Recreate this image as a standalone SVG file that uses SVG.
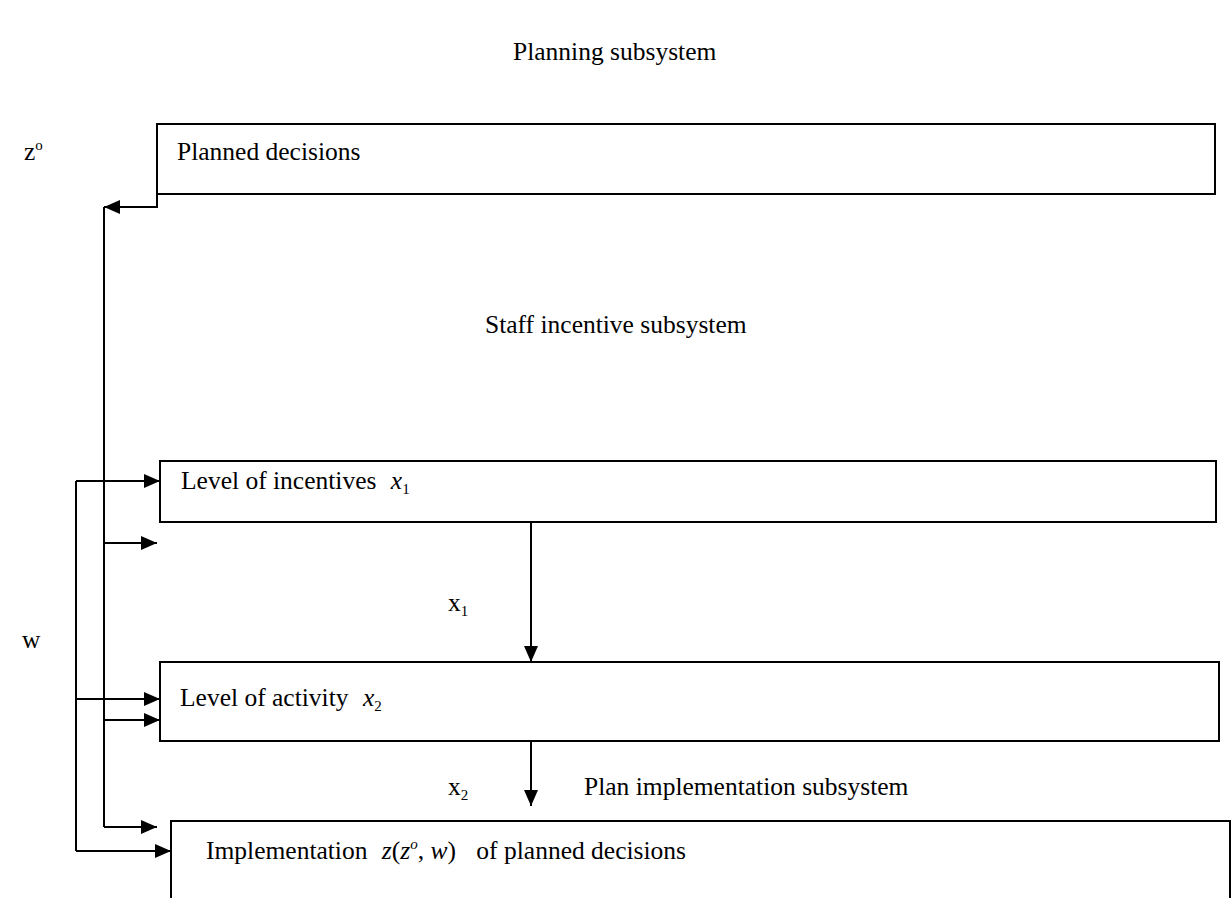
<svg xmlns="http://www.w3.org/2000/svg" width="1232" height="898" viewBox="0 0 1232 898">
<style>
  text { font-family: "Liberation Serif", "Times New Roman", serif; font-size: 25.5px; fill: #000; }
  .it { font-style: italic; }
  .sub { font-size: 15px; }
  .box { fill: #fff; stroke: #000; stroke-width: 2; }
  .ln { fill: none; stroke: #000; stroke-width: 2; }
</style>
<defs>
  <marker id="ah" viewBox="0 0 16 14" refX="16" refY="7" markerWidth="16" markerHeight="14" markerUnits="userSpaceOnUse" orient="auto">
    <path d="M0,0 L16,7 L0,14 Z" fill="#000"/>
  </marker>
</defs>

<text x="513" y="60">Planning subsystem</text>
<text x="24" y="160">z<tspan dy="-10" class="sub">o</tspan></text>
<text x="485" y="333">Staff incentive subsystem</text>
<text x="448" y="611">x<tspan dy="5" class="sub">1</tspan></text>
<text x="22" y="648">w</text>
<text x="448" y="795">x<tspan dy="5" class="sub">2</tspan></text>
<text x="584" y="795">Plan implementation subsystem</text>

<g id="node-planned">
  <rect class="box" x="157" y="124" width="1058" height="70"/>
  <text x="177" y="160">Planned decisions</text>
</g>
<g id="node-incentives">
  <rect class="box" x="160" y="461" width="1056" height="61"/>
  <text x="181" y="489">Level of incentives <tspan class="it" dx="8">x</tspan><tspan class="sub" dy="5">1</tspan></text>
</g>
<g id="node-activity">
  <rect class="box" x="160" y="662" width="1059" height="79"/>
  <text x="180" y="706">Level of activity <tspan class="it" dx="8">x</tspan><tspan class="sub" dy="5">2</tspan></text>
</g>
<g id="node-implementation">
  <path class="ln" d="M171,910 V821 H1230 V910"/>
  <text x="206" y="859">Implementation <tspan dx="8" class="it">z</tspan>(<tspan class="it">z</tspan><tspan class="sub it" dy="-10">o</tspan><tspan dy="10">, </tspan><tspan class="it">w</tspan>) <tspan dx="14">of planned decisions</tspan></text>
</g>

<g id="connectors">
  <path class="ln" d="M157,194 V207 H104" marker-end="url(#ah)"/>
  <path class="ln" d="M104,207 V827"/>
  <path class="ln" d="M104,543 H157" marker-end="url(#ah)"/>
  <path class="ln" d="M104,720 H160" marker-end="url(#ah)"/>
  <path class="ln" d="M104,827 H157" marker-end="url(#ah)"/>
  <path class="ln" d="M76,481 V851"/>
  <path class="ln" d="M76,481 H160" marker-end="url(#ah)"/>
  <path class="ln" d="M76,699 H160" marker-end="url(#ah)"/>
  <path class="ln" d="M76,851 H171" marker-end="url(#ah)"/>
  <path class="ln" d="M531,522 V662" marker-end="url(#ah)"/>
  <path class="ln" d="M531,741 V806" marker-end="url(#ah)"/>
</g>
</svg>
